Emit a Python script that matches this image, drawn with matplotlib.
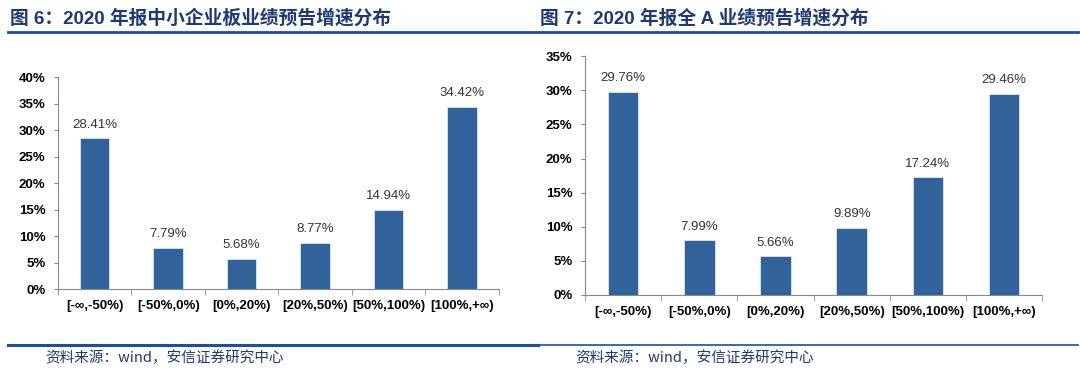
import matplotlib.pyplot as plt
import numpy as np

plt.rcParams['font.family'] = ['Liberation Sans', 'Noto Sans CJK SC', 'DejaVu Sans']

# data
categories = ['[-∞,-50%)', '[-50%,0%)', '[0%,20%)', '[20%,50%)', '[50%,100%)', '[100%,+∞)']
sme_values = [28.41, 7.79, 5.68, 8.77, 14.94, 34.42]
all_a_values = [29.76, 7.99, 5.66, 9.89, 17.24, 29.46]
titles = ['图 6：2020 年报中小企业板业绩预告增速分布', '图 7：2020 年报全 A 业绩预告增速分布']
source = '资料来源：wind，安信证券研究中心'

bar_color = '#31629A'
title_color = '#1F3A6E'
line_color = '#1F4E9A'

fig = plt.figure(figsize=(10.8, 3.72), dpi=100)

def draw_panel(rect, values, ymax, title, title_x, line_x0, line_x1, src_x, bottom_lw):
    ax = fig.add_axes(rect)
    x = np.arange(len(values))
    ax.bar(x, values, width=0.4, color=bar_color, edgecolor='#DDE6F0', linewidth=0.6, zorder=2)
    for xi, v in zip(x, values):
        ax.annotate('%.2f%%' % v, (xi, v), xytext=(0, 5.5), textcoords='offset points',
                    ha='center', va='bottom', fontsize=9.5, color='#333333')
    ax.set_xlim(-0.5, len(values) - 0.5)
    ax.set_ylim(0, ymax)
    yt = np.arange(0, ymax + 0.1, 5)
    ax.set_yticks(yt)
    ax.set_yticklabels(['%d%%' % t for t in yt], fontsize=9.5, fontweight='bold')
    ax.set_xticks(x)
    ax.set_xticklabels(categories, fontsize=9.5, fontweight='bold')
    ax.set_xticks(np.arange(-0.5, len(values)), minor=True)
    ax.tick_params(axis='x', which='major', length=0, pad=8)
    ax.tick_params(axis='x', which='minor', length=4, color='#888888')
    ax.tick_params(axis='y', length=3, color='#888888', pad=6)
    for s in ['top', 'right']:
        ax.spines[s].set_visible(False)
    ax.spines['left'].set_color('#888888')
    ax.spines['bottom'].set_color('#888888')

    fig.text(title_x, 1 - 18 / 372, title, fontsize=13.5, fontweight='bold', color=title_color,
             ha='left', va='center', family=['Liberation Sans', 'Noto Sans CJK SC'])
    fig.add_artist(plt.Line2D([line_x0, line_x1], [1 - 32 / 372] * 2, color=line_color, lw=2))
    fig.add_artist(plt.Line2D([line_x0, line_x1], [1 - 345 / 372] * 2, color=line_color, lw=bottom_lw))
    fig.text(src_x, 1 - 358 / 372, source, fontsize=10.5, color='#1F3A6E', style='italic',
             ha='left', va='center', family=['Noto Sans CJK SC', 'DejaVu Sans'])
    return ax

draw_panel([0.0537, 0.223, 0.408, 0.570], sme_values, 40, titles[0],
           10 / 1080, 8 / 1080, 538 / 1080, 45 / 1080, 2.2)
draw_panel([0.5417, 0.207, 0.4233, 0.642], all_a_values, 35, titles[1],
           540 / 1080, 540 / 1080, 1078 / 1080, 575 / 1080, 1.2)

fig.savefig('out.png', dpi=100)
